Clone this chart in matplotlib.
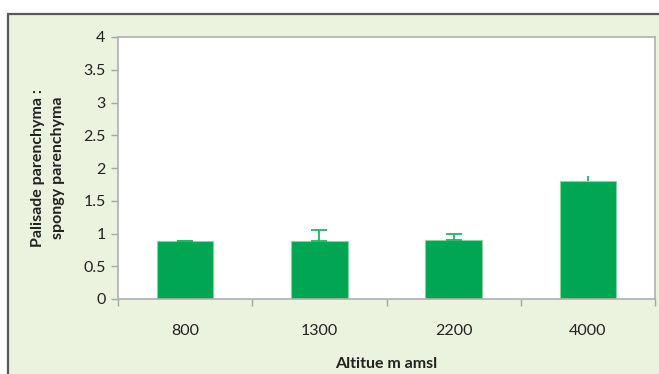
import matplotlib
matplotlib.use("Agg")
import matplotlib.pyplot as plt
from matplotlib.patches import Rectangle

altitudes = ["800", "1300", "2200", "4000"]
ratio = [0.88, 0.88, 0.90, 1.80]
ratio_err = [0.01, 0.17, 0.09, 0.08]
y_ticks = [0, 0.5, 1, 1.5, 2, 2.5, 3, 3.5, 4]

# cap width per error bar (the last one is drawn as a bare stem)
cap_sizes = [5.5, 5.5, 5.5, 0]

plt.rcParams["font.family"] = ["Lato", "DejaVu Sans"]

fig = plt.figure(figsize=(6.59, 3.74), dpi=100)
fig.patch.set_facecolor("white")

# framed light-green chart area, kept behind the axes
frame = Rectangle((8 / 659, -0.05), 1.2, (374 - 14) / 374 + 0.05,
                  transform=fig.transFigure, facecolor="#EBF2DE",
                  edgecolor="#595959", linewidth=1.6, zorder=-10)
fig.add_artist(frame)

ax = fig.add_axes([118 / 659, 75 / 374, (655 - 118) / 659, (299 - 37) / 374])
ax.set_zorder(1)
ax.set_facecolor("white")

x = list(range(len(altitudes)))
ax.bar(x, ratio, width=0.42, color="#00A651", edgecolor="#7FD6A0",
       linewidth=0.8, zorder=2)
for xi, v, e, cs in zip(x, ratio, ratio_err, cap_sizes):
    ax.errorbar([xi], [v], yerr=[[0], [e]], fmt="none", ecolor="#1DB860",
                elinewidth=1.3, capsize=cs, capthick=1.3, zorder=3)

ax.set_xlim(-0.5, len(altitudes) - 0.5)
ax.set_ylim(0, 4)
ax.set_yticks(y_ticks)
ax.set_yticklabels([f"{v:g}" for v in y_ticks])
ax.set_xticks([i - 0.5 for i in range(len(altitudes) + 1)])
ax.set_xticklabels([])
ax.set_xticks(x, minor=True)
ax.set_xticklabels(altitudes, minor=True)
ax.tick_params(axis="x", which="minor", length=0, pad=18, labelsize=11.5, colors="#222222")
ax.tick_params(axis="x", which="major", length=5, color="#A6A6A6", width=1)
ax.tick_params(axis="y", length=5, color="#A6A6A6", width=1, labelsize=11.5,
               labelcolor="#222222", pad=4)

for s in ax.spines.values():
    s.set_color("#B0B0B0")
    s.set_linewidth(1.2)

ax.set_xlabel("Altitue m amsl", fontsize=11.5, fontweight="bold", color="#222222", labelpad=14)
ax.set_ylabel("Palisade parenchyma :\nspongy parenchyma", fontsize=11.5, fontweight="bold",
              color="#222222", labelpad=13, linespacing=1.55)

fig.savefig("out.png", dpi=100)
